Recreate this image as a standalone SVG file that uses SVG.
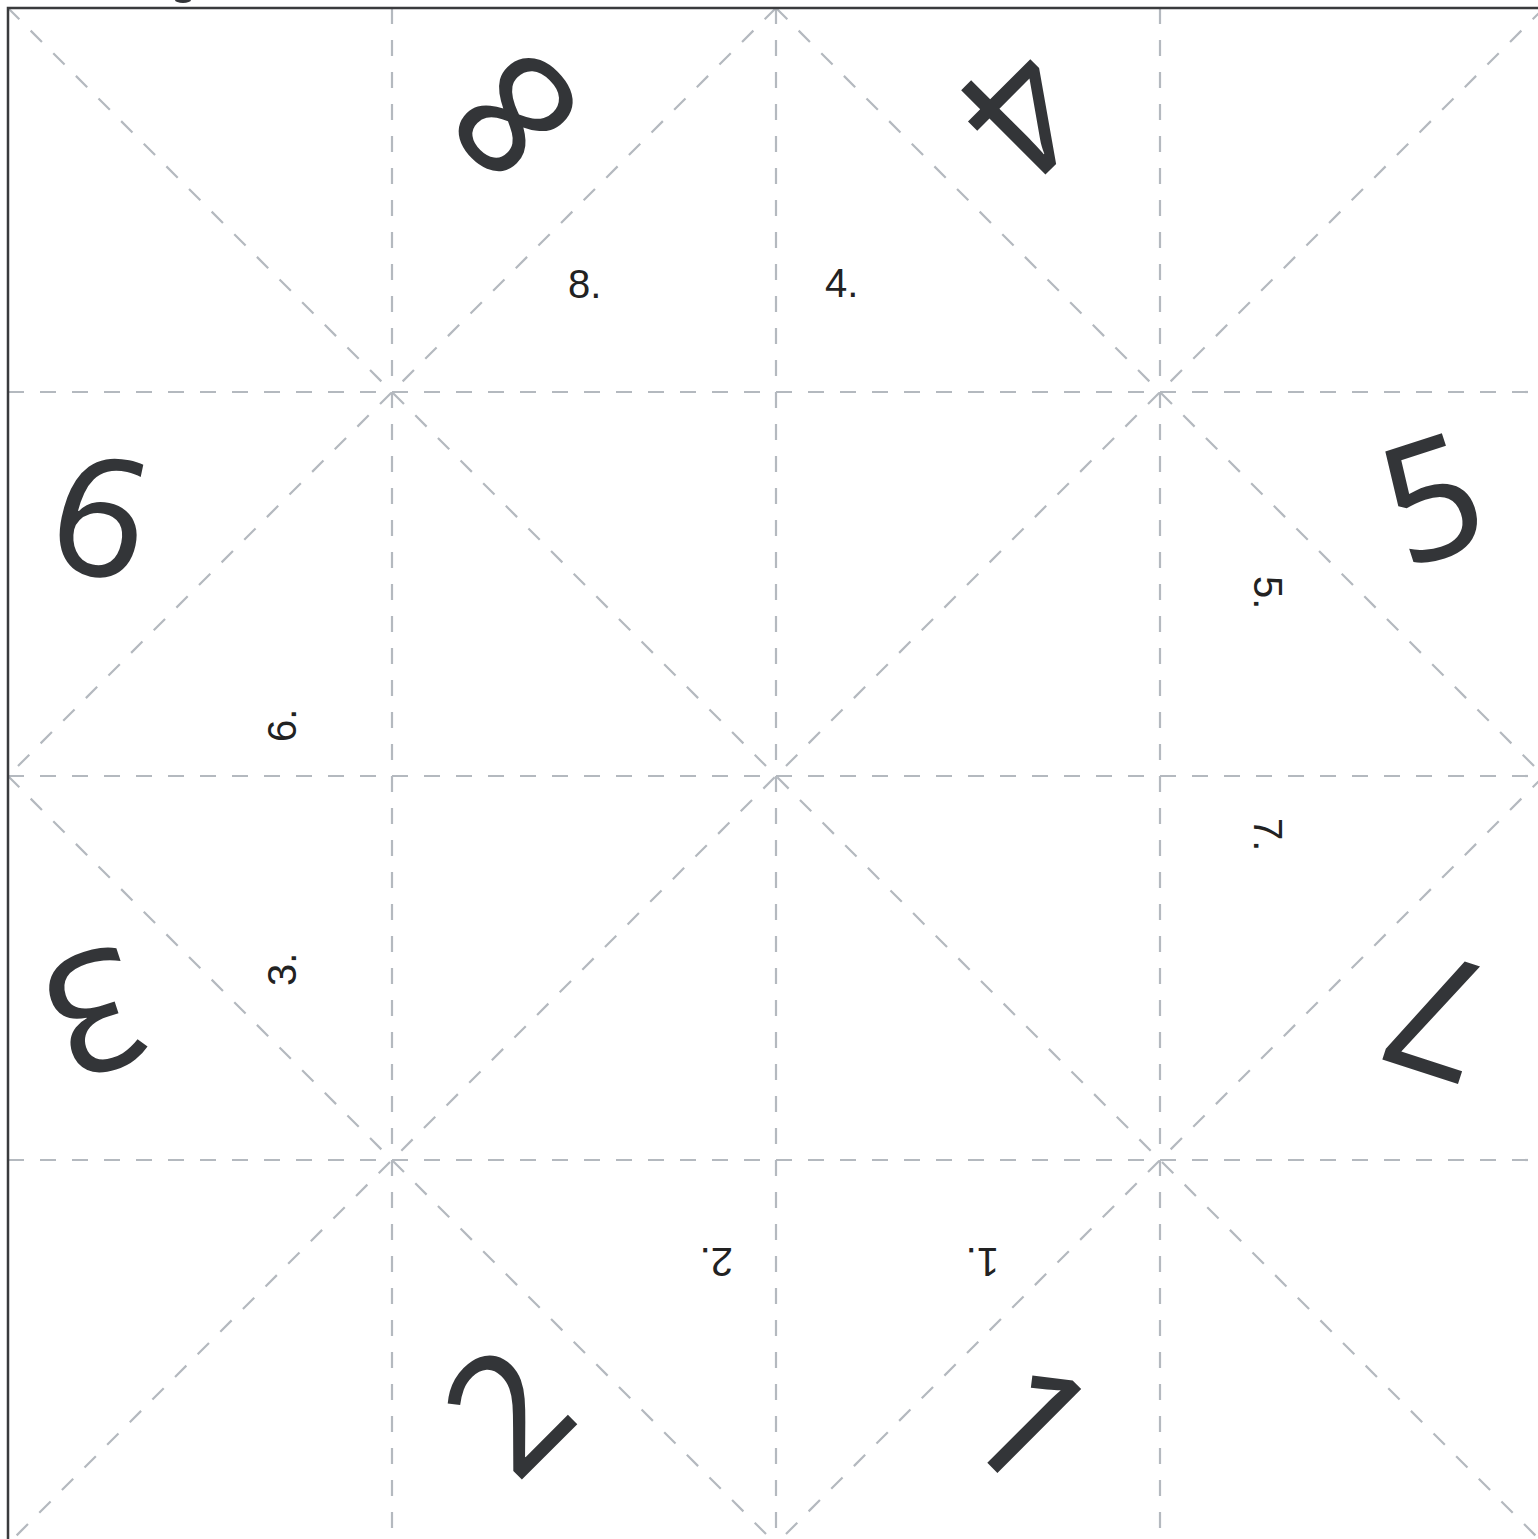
<svg xmlns="http://www.w3.org/2000/svg" width="1538" height="1539" viewBox="0 0 1538 1539">
<style>
.fold{stroke:#b4b9bf;stroke-width:2.2;stroke-dasharray:16 16;fill:none}
.big{font-family:"Noto Sans","DejaVu Sans",sans-serif;font-size:166px;fill:#333538;text-anchor:middle}
.small{font-family:"Liberation Sans",Arial,sans-serif;font-size:40px;fill:#222}
</style>
<rect width="1538" height="1539" fill="#ffffff"/>
<g id="folds">
<line class="fold" x1="392" y1="8" x2="392" y2="1544"/>
<line class="fold" x1="776" y1="8" x2="776" y2="1544"/>
<line class="fold" x1="1160" y1="8" x2="1160" y2="1544"/>
<line class="fold" x1="8" y1="392" x2="1544" y2="392"/>
<line class="fold" x1="8" y1="776" x2="1544" y2="776"/>
<line class="fold" x1="8" y1="1160" x2="1544" y2="1160"/>
<line class="fold" x1="8" y1="8" x2="1544" y2="1544"/>
<line class="fold" x1="1544" y1="8" x2="8" y2="1544"/>
<line class="fold" x1="776" y1="8" x2="8" y2="776"/>
<line class="fold" x1="776" y1="8" x2="1544" y2="776"/>
<line class="fold" x1="8" y1="776" x2="776" y2="1544"/>
<line class="fold" x1="1544" y1="776" x2="776" y2="1544"/>
</g>
<g id="border">
<rect x="8" y="8" width="1536" height="1536" fill="none" stroke="#3a3b3d" stroke-width="2.5"/>
<ellipse cx="183" cy="0" rx="8" ry="3" fill="#333538"/>
</g>
<g id="big-8" transform="translate(515,115) rotate(-135)"><text class="big" x="0" y="59">8</text></g>
<g id="big-4" transform="translate(1022,113) rotate(135)"><text class="big" x="0" y="59">4</text></g>
<g id="big-5" transform="translate(1432,499) rotate(-18)"><text class="big" x="0" y="59">5</text></g>
<g id="big-7" transform="translate(1438,1015) rotate(198)"><text class="big" x="0" y="59">7</text></g>
<g id="big-1" transform="translate(1031,1423) rotate(45)"><text class="big" x="0" y="59">1</text></g>
<g id="big-2" transform="translate(508,1410) rotate(-45)"><text class="big" x="0" y="59">2</text></g>
<g id="big-3" transform="translate(95,1012) rotate(162)"><text class="big" x="0" y="59">3</text></g>
<g id="big-6" transform="translate(101,517) rotate(12)"><text class="big" x="0" y="59">6</text></g>
<g id="label-8"><text class="small" x="568" y="298">8.</text></g>
<g id="label-4"><text class="small" x="825" y="297">4.</text></g>
<g id="label-5"><text class="small" transform="translate(1254,576) rotate(90)">5.</text></g>
<g id="label-7"><text class="small" transform="translate(1254,818) rotate(90)">7.</text></g>
<g id="label-6"><text class="small" transform="translate(296,742) rotate(-90)">6.</text></g>
<g id="label-3"><text class="small" transform="translate(296,986) rotate(-90)">3.</text></g>
<g id="label-2"><text class="small" transform="translate(733,1248) rotate(180)">2.</text></g>
<g id="label-1"><text class="small" transform="translate(999,1248) rotate(180)">1.</text></g>
</svg>
